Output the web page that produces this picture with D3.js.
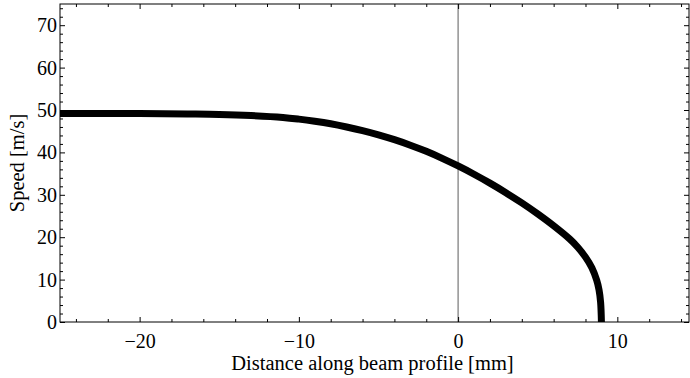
<!DOCTYPE html>
<html><head><meta charset="utf-8">
<script src="https://cdn.jsdelivr.net/npm/d3@7"></script>
<style>body{margin:0;background:#fff}svg{display:block}</style>
</head><body><svg id="c" width="690" height="378"></svg>
<script>
const distance = [-25,-20,-17,-15,-13,-11,-10,-9,-8,-7,-6,-5,-4,-3,-2,-1,0,1,2,3,4,5,6,7,7.5,8,8.4,8.7,8.85,8.95,9.0];
const speed    = [49.2,49.15,49.05,48.95,48.7,48.25,47.85,47.35,46.75,46.0,45.15,44.15,43.0,41.7,40.25,38.6,36.8,34.85,32.75,30.5,28.1,25.5,22.7,19.6,17.7,15.3,12.8,9.9,7.6,4.6,0];
const xMajor = [-20,-10,0,10];
const yMajor = [0,10,20,30,40,50,60,70];
const xTitle = "Distance along beam profile [mm]";
const yTitle = "Speed [m/s]";
const FONT = "Times New Roman";

const svg = d3.select("#c");
const L=60, R=689, T=4, B=322;
const x = d3.scaleLinear().domain([-25,14.5]).range([L,R]);
const y = d3.scaleLinear().domain([0,75]).range([B,T]);

const xMinor = d3.range(-24,15,2).filter(v=>!xMajor.includes(v));
const yMinor = d3.range(2,75,2).filter(v=>!yMajor.includes(v));

svg.append("line").attr("x1",x(0)).attr("x2",x(0)).attr("y1",T).attr("y2",B)
  .attr("stroke","#777").attr("stroke-width",1.2);

const pts = distance.map((d,i)=>[d,speed[i]]);
svg.append("path").datum(pts)
  .attr("d", d3.line().x(d=>x(d[0])).y(d=>y(d[1])).curve(d3.curveCatmullRom.alpha(0.5)))
  .attr("fill","none").attr("stroke","#000").attr("stroke-width",7).attr("stroke-linecap","butt");

const bx = svg.append("g").attr("transform",`translate(0,${B})`)
  .call(d3.axisBottom(x).tickValues(xMajor).tickSize(-5).tickPadding(12)
    .tickFormat(d=> d<0 ? "\u2212"+Math.abs(d) : d));
bx.selectAll("text").attr("dy","0.71em");
svg.append("g").attr("transform",`translate(0,${B})`)
  .call(d3.axisBottom(x).tickValues(xMinor).tickSize(-3).tickFormat(""));
svg.append("g").attr("transform",`translate(0,${T})`)
  .call(d3.axisTop(x).tickValues(xMajor).tickSize(-5).tickFormat(""));
svg.append("g").attr("transform",`translate(0,${T})`)
  .call(d3.axisTop(x).tickValues(xMinor).tickSize(-3).tickFormat(""));
svg.append("g").attr("transform",`translate(${L},0)`)
  .call(d3.axisLeft(y).tickValues(yMajor).tickSize(-5).tickPadding(3));
svg.append("g").attr("transform",`translate(${L},0)`)
  .call(d3.axisLeft(y).tickValues(yMinor).tickSize(-3).tickFormat(""));
svg.append("g").attr("transform",`translate(${R},0)`)
  .call(d3.axisRight(y).tickValues(yMajor).tickSize(-5).tickFormat(""));
svg.append("g").attr("transform",`translate(${R},0)`)
  .call(d3.axisRight(y).tickValues(yMinor).tickSize(-3).tickFormat(""));
svg.selectAll(".domain").remove();
svg.selectAll(".tick line").attr("stroke","#000");
svg.selectAll("g").attr("font-family",FONT).attr("font-size",20);
svg.selectAll(".tick text").attr("fill","#000");

svg.append("rect").attr("x",L).attr("y",T).attr("width",R-L).attr("height",B-T)
  .attr("fill","none").attr("stroke","#000").attr("stroke-width",1);

svg.append("text").attr("x",(L+R)/2-2).attr("y",370).attr("text-anchor","middle")
  .attr("font-family",FONT).attr("font-size",20.5).attr("fill","#000").text(xTitle);
svg.append("text").attr("transform",`translate(24,${(T+B)/2}) rotate(-90)`)
  .attr("text-anchor","middle").attr("font-family",FONT).attr("font-size",20.5).attr("fill","#000").text(yTitle);
</script></body></html>
